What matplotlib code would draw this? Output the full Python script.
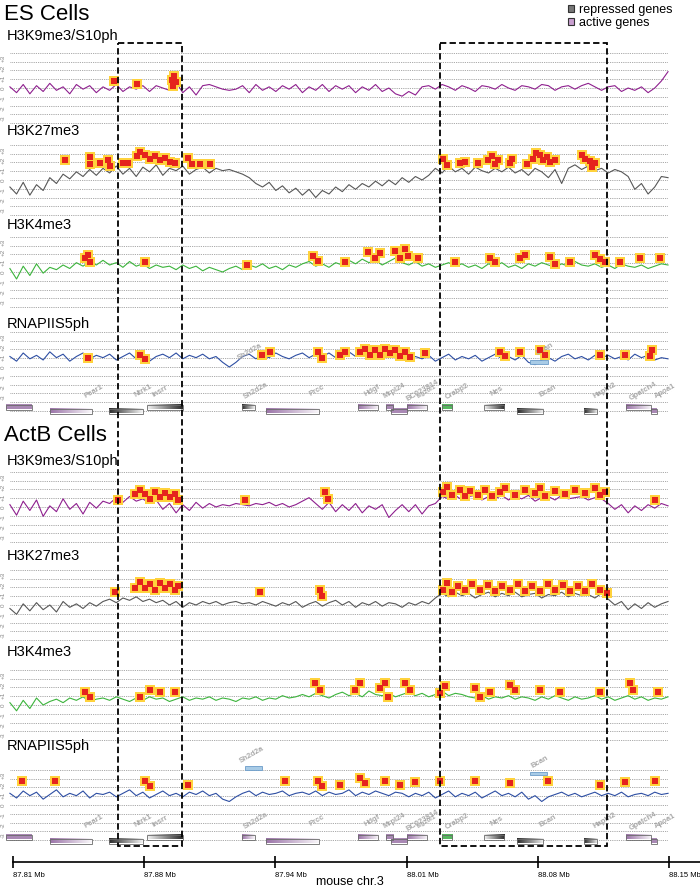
import numpy as np
import matplotlib.pyplot as plt
from matplotlib.patches import Rectangle, Patch
from matplotlib.colors import LinearSegmentedColormap

plt.rcParams['font.family'] = ['Liberation Sans', 'DejaVu Sans']

W, H = 700, 889
MB_PER_PX = 0.34 / 656
X_LEFT = 87.81 - 13 * MB_PER_PX
X_RIGHT = X_LEFT + W * MB_PER_PX
SIG_START, SIG_END = 87.8084, 88.1495
UNIT = 11.67  # px per signal unit

# ---- axis ----
tick_pos = [87.810, 87.878, 87.946, 88.014, 88.082, 88.150]
tick_labels = ["87.81 Mb", "87.88 Mb", "87.94 Mb", "88.01 Mb", "88.08 Mb", "88.15 Mb"]

# ---- signal tracks (log ratio) ----
es_h3k9 = [0.1, -0.4, 0.3, -0.5, 0.2, -0.3, 0.4, -0.2, 0.1, -0.5, 0.3, -0.1, 0.2, -0.4, 0.1,
           -0.2, 0.3, -0.3, 0.1, -0.1, 0.2, -0.3, 0.2, 0.0, -0.2, 0.5, -0.4, 0.1, -0.6, 0.2,
           0.3, 0.1, -0.1, -0.2, -0.1, 0.2, -0.4, 0.3, -0.2, 0.1, -0.3, 0.2, -0.1, 0.3, -0.4,
           0.1, -0.2, 0.3, -0.3, 0.2, -0.1, 0.2, -0.4, 0.1, -0.2, 0.3, -0.3, 0.0, -0.5, -0.7,
           -0.3, -0.6, 0.1, 0.2, -0.1, 0.3, 0.1, -0.2, 0.2, 0.0, -0.3, 0.2, 0.1, -0.1, 0.3,
           0.0, -0.2, 0.2, 0.1, -0.1, 0.3, 0.2, -0.2, 0.1, 0.2, -0.1, 0.2, 0.4, 0.1, -0.2,
           0.1, 0.2, -0.3, 0.0, -0.2, 0.1, -0.4, 0.0, 0.6, 1.4]
es_h3k27 = [-0.6, -1.2, -0.2, -1.3, -0.4, -0.9, 0.2, -0.3, 0.5, 0.1, 0.7, 0.3, 0.9, 0.4, 1.0,
            0.6, 1.2, 0.5, 1.0, 0.3, 1.1, 0.7, 1.3, 0.4, 1.0, 0.8, 1.2, 0.5, 0.9, 1.1,
            0.6, 1.0, 0.8, 0.9, 0.7, 0.5, 0.2, -0.3, -0.6, -0.2, -0.9, -0.5, -1.1, -0.7, -1.3,
            -0.8, -1.5, -0.9, -1.2, -0.6, -1.0, -0.4, -0.8, -0.3, -0.6, -0.1, -0.5, 0.0, -0.4, 0.2,
            -0.2, 0.3, 0.0, 0.4, 1.0, 0.6, 1.2, 0.7, 1.0, 0.5, 1.1, 0.8, 0.6, 1.0, 0.7,
            1.1, 0.6, 0.9, 0.4, 1.0, 0.7, 0.2, 0.9, -0.3, 1.0, 1.3, 0.9, 1.2, 0.8, 1.0,
            0.6, 0.9, 0.7, 0.3, -0.8, -0.3, -1.2, -0.6, 0.3, 0.2]
es_h3k4 = [0.3, -0.6, 0.5, -0.3, 0.7, -0.1, 0.4, 0.2, 0.6, 0.3, 0.8, 0.5, 0.9, 0.6, 1.0,
           0.6, 0.8, 0.4, 0.9, 0.5, 0.7, 0.3, 0.6, 0.4, 0.5, 0.2, 0.6, 0.3, 0.5, 0.1,
           0.4, 0.2, 0.0, 0.3, 0.5, 0.2, 0.6, 0.4, 0.7, 0.3, 0.5, 0.2, 0.6, 0.4, 0.7,
           0.9, 0.5, 0.7, 0.4, 0.8, 0.6, 1.0, 0.7, 1.1, 0.8, 1.0, 0.6, 0.9, 1.2, 0.8,
           0.6, 0.9, 0.5, 0.7, 0.4, 0.6, 0.8, 0.5, 0.7, 0.4, 0.6, 0.3, 0.7, 0.5, 0.8,
           0.4, 0.6, 0.3, 0.7, 0.5, 0.8, 0.6, 0.4, 0.7, 0.5, 0.9, 0.6, 0.5, 0.7, 0.4,
           0.6, 0.3, 0.7, 0.5, 0.4, 0.6, 0.3, 0.5, 0.7, 0.6]
es_pol2 = [0.9, 0.5, 1.2, 0.7, 1.0, 0.6, 1.3, 0.8, 1.1, 0.5, 0.9, 1.2, 0.7, 1.0, 0.8,
           1.1, 0.6, 0.9, 1.2, 0.7, 1.0, 0.5, 0.9, 1.1, 0.8, 1.2, 0.7, 1.0, 0.8, 1.1,
           0.7, 0.9, 0.4, 0.0, 0.4, 0.9, 1.1, 0.7, 1.0, 0.8, 1.2, 0.9, 0.7, 1.0, 1.2,
           0.8, 1.1, 0.9, 1.2, 0.8, 1.0, 1.3, 0.9, 1.1, 0.7, 1.0, 1.2, 0.8, 1.1, 0.9,
           0.6, 0.9, 0.7, 1.0, 0.5, 0.8, 1.1, 0.6, 0.9, 0.7, 1.0, 0.5, 0.8, 1.1, 0.7,
           0.9, 0.6, 1.0, 0.4, 0.2, 0.6, 0.8, 0.5, 0.9, 1.1, 0.7, 0.9, 0.6, 1.0, 0.8,
           1.0, 0.7, 0.9, 0.6, 1.1, 0.8, 1.0, 0.6, 0.8, 0.7]
actb_h3k9 = [0.2, -0.7, 0.5, -0.3, 0.6, -0.8, 0.1, -0.4, 0.7, -0.2, 0.3, -0.6, 0.4, -0.1, 0.5,
             0.3, 0.8, 0.4, 0.9, 0.5, 0.7, 0.3, 0.6, -0.2, 0.3, -0.5, 0.2, -0.3, 0.4, -0.1,
             0.3, 0.0, 0.2, 0.1, 0.3, 0.2, 0.1, 0.3, 0.2, 0.4, 0.1, 0.3, 0.0, 0.2, 0.5,
             0.8, 0.3, -0.2, 0.4, -0.4, 0.2, -0.3, 0.3, -0.5, 0.1, -0.2, 0.2, -0.9, -0.3, 0.2,
             -0.4, 0.2, -0.6, 0.1, 0.3, 0.9, 0.7, 1.0, 0.6, 0.9, 1.0, 0.6, 0.9, 0.7, 1.0,
             0.6, 0.9, 0.7, 1.0, 0.5, 0.8, 0.9, 0.6, 1.0, 0.7, 0.8, 0.9, 0.6, 0.8, 0.7,
             0.3, -0.2, 0.2, -0.5, 0.1, -0.3, 0.2, -0.1, 0.3, 0.1]
actb_h3k27 = [-0.3, -0.8, 0.1, -0.5, 0.2, -0.4, 0.0, -0.6, 0.3, -0.2, 0.1, -0.3, 0.2, -0.1, 0.3,
              0.5, 0.2, 0.6, 0.4, 0.7, 0.3, 0.5, 0.2, 0.4, 0.0, 0.3, -0.2, 0.2, 0.0, 0.3,
              0.1, 0.3, 0.0, 0.2, 0.3, 0.1, 0.2, 0.0, 0.3, 0.1, -0.1, 0.2, 0.0, 0.3, -0.2,
              0.1, 0.3, -0.1, 0.2, 0.4, 0.0, 0.3, -0.2, 0.2, 0.0, 0.3, -0.1, 0.2, 0.1, -0.2,
              0.2, 0.0, 0.3, 0.1, 0.6, 1.0, 0.7, 1.1, 0.8, 1.0, 0.6, 0.9, 1.1, 0.7, 1.0,
              0.8, 1.1, 0.7, 0.9, 1.0, 0.6, 0.9, 0.8, 1.1, 0.7, 1.0, 0.8, 0.9, 0.6, 1.0,
              0.5, 0.0, 0.3, -0.4, 0.1, -0.3, 0.2, -0.2, 0.1, 0.3]
actb_h3k4 = [0.2, -0.5, 0.4, -0.3, 0.6, 0.0, 0.3, 0.5, 0.2, 0.6, 0.4, 0.7, 0.3, 0.5, 0.6,
             0.4, 0.7, 0.5, 0.3, 0.6, 0.4, 0.7, 0.5, 0.6, 0.3, 0.5, 0.7, 0.4, 0.6, 0.5,
             0.7, 0.4, 0.6, 0.5, 0.3, 0.6, 0.5, 0.7, 0.4, 0.6, 0.5, 0.8, 0.6, 0.7, 0.9,
             0.7, 1.0, 0.8, 0.6, 0.9, 1.1, 0.8, 1.0, 0.7, 1.2, 0.9, 0.8, 1.0, 0.7, 0.9,
             1.1, 0.8, 1.0, 0.7, 0.9, 1.2, 0.8, 1.0, 0.9, 0.7, 0.6, 0.8, 0.5, 0.7, 0.6,
             0.8, 0.5, 0.7, 0.6, 0.4, 0.7, 0.5, 0.8, 0.6, 0.4, 0.7, 0.5, 0.6, 0.8, 0.5,
             0.7, 0.4, 0.6, 0.8, 0.5, 0.7, 0.4, 0.6, 0.5, 0.7]
actb_pol2 = [1.0, 0.6, 1.2, 0.8, 1.1, 0.5, 0.9, 1.3, 0.7, 1.0, 0.8, 1.2, 0.6, 1.0, 0.9,
             1.1, 0.7, 1.0, 1.3, 0.8, 1.1, 0.6, 0.9, 1.2, 0.8, 1.0, 0.7, 1.1, 0.9, 1.2,
             0.8, 1.0, 0.5, 0.3, 0.7, 1.0, 1.2, 0.8, 1.1, 0.9, 1.0, 1.2, 0.8, 1.0, 1.1,
             0.9, 1.2, 0.8, 1.1, 0.9, 1.0, 1.3, 0.8, 1.1, 0.9, 1.2, 1.0, 0.8, 1.1, 1.0,
             0.7, 1.0, 0.8, 1.1, 0.6, 0.9, 1.2, 0.7, 1.0, 0.8, 1.1, 0.6, 0.9, 1.2, 0.8,
             1.0, 0.7, 1.1, 0.5, 0.8, 0.3, 0.7, 0.9, 1.1, 0.8, 1.0, 0.7, 0.9, 1.1, 0.8,
             1.0, 0.8, 1.1, 0.7, 0.9, 1.0, 0.8, 1.1, 0.9, 1.0]

# ---- enriched regions (Mb, level) ----
es_h3k9_peak_x = [87.8623, 87.8743, 87.8924, 87.8934, 87.8945, 87.8929]
es_h3k9_peak_y = [0.6, 0.35, 0.7, 1.0, 0.5, 0.2]
es_h3k27_peak_x = [87.8370, 87.8499, 87.8499, 87.8551, 87.8592, 87.8603, 87.8670, 87.8696,
                   87.8743, 87.8758, 87.8784, 87.8810, 87.8836, 87.8862, 87.8888, 87.8914,
                   87.8940, 87.9007, 87.9028, 87.9069, 87.9121, 88.0329, 88.0349, 88.0417,
                   88.0443, 88.0510, 88.0562, 88.0583, 88.0598, 88.0614, 88.0676, 88.0686,
                   88.0764, 88.0795, 88.0811, 88.0831, 88.0847, 88.0868, 88.0883, 88.0909,
                   88.1049, 88.1065, 88.1091, 88.1101, 88.1116]
es_h3k27_peak_y = [1.7, 2.0, 1.4, 1.45, 1.7, 1.2, 1.45, 1.45,
                   2.05, 2.4, 2.15, 1.8, 2.05, 1.7, 1.9, 1.55,
                   1.45, 1.9, 1.35, 1.35, 1.35, 1.8, 1.3, 1.45,
                   1.55, 1.45, 1.7, 2.05, 1.35, 1.7, 1.45, 1.8,
                   1.35, 1.8, 2.3, 2.15, 1.7, 2.0, 1.55, 1.7,
                   2.15, 1.8, 1.6, 1.1, 1.45]
es_h3k4_peak_x = [87.8473, 87.8499, 87.8489, 87.8784, 87.9313, 87.9655, 87.9681, 87.9821,
                  87.9940, 87.9976, 88.0002, 88.0080, 88.0106, 88.0132, 88.0147, 88.0199,
                  88.0391, 88.0572, 88.0598, 88.0728, 88.0754, 88.0883, 88.0909, 88.0987,
                  88.1116, 88.1142, 88.1168, 88.1246, 88.1350, 88.1453]
es_h3k4_peak_y = [1.2, 0.85, 1.45, 0.85, 0.6, 1.35, 0.95, 0.85,
                  1.7, 1.2, 1.6, 1.8, 1.2, 2.0, 1.35, 1.2,
                  0.85, 1.2, 0.85, 1.2, 1.45, 1.3, 0.7, 0.85,
                  1.45, 1.1, 0.85, 0.85, 1.2, 1.2]
es_pol2_peak_x = [87.8489, 87.8758, 87.8784, 87.9391, 87.9432, 87.9681, 87.9702, 87.9795,
                  87.9821, 87.9898, 87.9924, 87.9950, 87.9976, 88.0002, 88.0028, 88.0054,
                  88.0080, 88.0106, 88.0132, 88.0158, 88.0235, 88.0624, 88.0650, 88.0728,
                  88.0831, 88.0857, 88.1142, 88.1272, 88.1402, 88.1412]
es_pol2_peak_y = [0.75, 1.0, 0.7, 1.0, 1.3, 1.3, 0.75, 1.0,
                  1.3, 1.3, 1.55, 1.0, 1.45, 1.0, 1.55, 1.2,
                  1.45, 0.95, 1.3, 0.85, 1.2, 1.3, 0.95, 1.3,
                  1.45, 1.0, 1.0, 1.0, 0.95, 1.45]
actb_h3k9_peak_x = [87.8644, 87.8732, 87.8758, 87.8784, 87.8810, 87.8836, 87.8862, 87.8888,
                    87.8914, 87.8940, 87.8955, 87.9302, 87.9717, 87.9733, 88.0329, 88.0349,
                    88.0375, 88.0417, 88.0443, 88.0469, 88.0510, 88.0546, 88.0583, 88.0624,
                    88.0650, 88.0702, 88.0754, 88.0806, 88.0831, 88.0857, 88.0909, 88.0961,
                    88.1013, 88.1065, 88.1116, 88.1142, 88.1168, 88.1427]
actb_h3k9_peak_y = [0.6, 1.1, 1.45, 1.1, 0.7, 1.3, 0.85, 1.2,
                    0.85, 1.1, 0.6, 0.6, 1.3, 0.7, 1.3, 1.7,
                    1.0, 1.45, 0.95, 1.35, 1.0, 1.45, 0.95, 1.3,
                    1.6, 1.0, 1.45, 1.2, 1.6, 0.95, 1.35, 1.1,
                    1.45, 1.2, 1.6, 1.0, 1.3, 0.6]
actb_h3k27_peak_x = [87.8629, 87.8732, 87.8758, 87.8784, 87.8810, 87.8836, 87.8862, 87.8888,
                     87.8914, 87.8940, 87.8955, 87.9380, 87.9691, 87.9702, 88.0329, 88.0349,
                     88.0375, 88.0406, 88.0443, 88.0479, 88.0520, 88.0562, 88.0598, 88.0634,
                     88.0676, 88.0717, 88.0754, 88.0790, 88.0831, 88.0873, 88.0909, 88.0951,
                     88.0987, 88.1028, 88.1065, 88.1101, 88.1142, 88.1179]
actb_h3k27_peak_y = [1.1, 1.45, 2.0, 1.45, 1.8, 1.3, 1.9, 1.45,
                     1.8, 1.3, 1.6, 1.1, 1.3, 0.75, 1.3, 1.9,
                     1.1, 1.6, 1.3, 1.8, 1.3, 1.7, 1.2, 1.6,
                     1.3, 1.8, 1.2, 1.6, 1.2, 1.8, 1.3, 1.7,
                     1.2, 1.6, 1.2, 1.8, 1.3, 1.0]
actb_h3k4_peak_x = [87.8473, 87.8499, 87.8758, 87.8810, 87.8862, 87.8940, 87.9665, 87.9691,
                    87.9873, 87.9898, 88.0002, 88.0028, 88.0044, 88.0132, 88.0158, 88.0313,
                    88.0339, 88.0494, 88.0520, 88.0572, 88.0676, 88.0702, 88.0831, 88.0935,
                    88.1142, 88.1298, 88.1313, 88.1443]
actb_h3k4_peak_y = [1.1, 0.7, 0.7, 1.3, 1.1, 1.1, 1.9, 1.3,
                    1.3, 1.9, 1.45, 1.9, 0.7, 1.9, 1.3, 1.0,
                    1.6, 1.45, 0.7, 1.1, 1.7, 1.3, 1.3, 1.1,
                    1.1, 1.9, 1.3, 1.1]
actb_pol2_peak_x = [87.8147, 87.8318, 87.8784, 87.8810, 87.9007, 87.9510, 87.9681, 87.9702,
                    87.9795, 87.9898, 87.9924, 88.0028, 88.0106, 88.0184, 88.0313, 88.0494,
                    88.0676, 88.0873, 88.1142, 88.1272, 88.1427]
actb_pol2_peak_y = [2.05, 2.05, 2.05, 1.6, 1.7, 2.05, 2.05, 1.6,
                    1.7, 2.3, 1.9, 2.05, 1.7, 2.0, 2.05, 2.05,
                    1.9, 2.05, 1.7, 2.0, 2.05]

# ---- genes ----
gene_start = [87.8064, 87.8292, 87.8598, 87.8795, 87.9287, 87.9411, 87.9888, 88.0033,
              88.0059, 88.0142, 88.0323, 88.0541, 88.0712, 88.1059, 88.1277, 88.1407]
gene_end = [87.8198, 87.8509, 87.8774, 87.8981, 87.9354, 87.9686, 87.9992, 88.0070,
            88.0142, 88.0246, 88.0375, 88.0645, 88.0847, 88.1127, 88.1407, 88.1438]
gene_row = [0, 1, 1, 0, 0, 1, 0, 0, 1, 0, 0, 0, 1, 1, 0, 1]
gene_fade = [0, 1, 1, -1, 1, 1, 1, 0, 0, 1, 0, -1, 1, 1, 1, 0]
es_gene_kind = ['act', 'act', 'rep', 'rep', 'rep', 'act', 'act', 'act',
                'act', 'act', 'green', 'rep', 'rep', 'rep', 'act', 'act']
actb_gene_kind = ['act', 'act', 'rep', 'rep', 'act', 'act', 'act', 'act',
                  'act', 'act', 'green', 'rep', 'rep', 'rep', 'act', 'act']
gene_names = ['Pear1', 'Ntrk1', 'Insrr', 'Sh2d2a', 'Prcc', 'Hdgf', 'Mrpl24', 'BC023814',
              'Isg20l1', 'Crabp2', 'Nes', 'Bcan', 'Hapln2', 'Gpatch4', 'Apoa1']
gene_label_x = [87.8520, 87.8774, 87.8862, 87.9359, 87.9676, 87.9961, 88.0075, 88.0220,
                88.0246, 88.0401, 88.0609, 88.0873, 88.1168, 88.1365, 88.1479]

# faint labels/boxes drawn inside the RNAPII tracks
es_ghost_names = ['Sh2d2a', 'Bcan']
es_ghost_x = [87.9328, 88.0857]
es_ghost_y = [1.3, 1.5]
es_ghost_box = [(88.0780, 88.0873, 0.4)]
actb_ghost_names = ['Sh2d2a', 'Bcan']
actb_ghost_x = [87.9339, 88.0831]
actb_ghost_y = [4.3, 3.7]
actb_ghost_box = [(87.9302, 87.9390, 3.2), (88.0780, 88.0868, 2.7)]

KIND_COLORS = {'act': '#9b74a8', 'rep': '#2a2a2a', 'green': '#3aaa45'}
PURPLE, GRAY, GREEN, BLUE = '#8e1f8e', '#575757', '#3cb43c', '#2d4ea3'

fig = plt.figure(figsize=(7, 8.89), dpi=100)


def px_axes(top, bottom, zorder=1):
    return fig.add_axes([0, 1 - bottom / H, 1, (bottom - top) / H], zorder=zorder)


def draw_track(y0, signal, peak_x, peak_y, color, bottom=None):
    top = y0 - 42
    if bottom is None:
        bottom = y0 + 42
    ax = px_axes(top, bottom)
    ax.set_xlim(X_LEFT, X_RIGHT)
    low = -(bottom - y0) / UNIT
    ax.set_ylim(low, (y0 - top) / UNIT)
    ax.axis('off')
    levels = np.arange(3, low + 0.05, -0.75)
    ax.hlines(levels, SIG_START, SIG_END, colors='#8a8a8a',
              linestyles=(0, (1, 1.2)), lw=0.6)
    xs = np.linspace(SIG_START, SIG_END, len(signal))
    ax.plot(xs, signal, color=color, lw=0.8)
    ax.scatter(peak_x, peak_y, s=46, marker='s', c='#ffd23c', lw=0, zorder=3)
    ax.scatter(peak_x, peak_y, s=16, marker='s', c='#e5231d', lw=0, zorder=4)
    for v in range(3, -4, -1):
        ax.text(X_LEFT + 3 * MB_PER_PX, v * 0.85, f'{v:+d}' if v else '0', rotation=90,
                fontsize=4.5, color='#888888', ha='center', va='center')
    return ax


def draw_ghosts(ax, names, xs, ys, boxes):
    for name, x, y in zip(names, xs, ys):
        ax.text(x, y, name, rotation=30, fontsize=5.5, color='#a8a8a8',
                fontweight='bold', ha='center', va='center', clip_on=False)
    for x0, x1, y in boxes:
        ax.add_patch(Rectangle((x0, y - 0.17), x1 - x0, 0.34, fc='#a8cbe6',
                               ec='#6b9cc9', lw=0.6, clip_on=False, zorder=5))


# ES cells
es_y0 = [88, 180, 272, 367]
draw_track(es_y0[0], es_h3k9, es_h3k9_peak_x, es_h3k9_peak_y, PURPLE)
draw_track(es_y0[1], es_h3k27, es_h3k27_peak_x, es_h3k27_peak_y, GRAY)
draw_track(es_y0[2], es_h3k4, es_h3k4_peak_x, es_h3k4_peak_y, GREEN)
ax = draw_track(es_y0[3], es_pol2, es_pol2_peak_x, es_pol2_peak_y, BLUE, bottom=413)
draw_ghosts(ax, es_ghost_names, es_ghost_x, es_ghost_y, es_ghost_box)

# ActB cells
actb_y0 = [507, 605, 705, 805]
draw_track(actb_y0[0], actb_h3k9, actb_h3k9_peak_x, actb_h3k9_peak_y, PURPLE)
draw_track(actb_y0[1], actb_h3k27, actb_h3k27_peak_x, actb_h3k27_peak_y, GRAY)
draw_track(actb_y0[2], actb_h3k4, actb_h3k4_peak_x, actb_h3k4_peak_y, GREEN)
ax = draw_track(actb_y0[3], actb_pol2, actb_pol2_peak_x, actb_pol2_peak_y, BLUE, bottom=843)
draw_ghosts(ax, actb_ghost_names, actb_ghost_x, actb_ghost_y, actb_ghost_box)

# overlay in pixel rows: genes and the dashed boxes
ov = px_axes(0, H, zorder=10)
ov.patch.set_alpha(0)
ov.axis('off')


def draw_genes(row_top, kinds):
    for x0, x1, row, kind, fade in zip(gene_start, gene_end, gene_row, kinds, gene_fade):
        y = row_top + row * 4
        cmap = LinearSegmentedColormap.from_list('g', ['white', KIND_COLORS[kind]])
        grad = np.linspace(0.05, 1, 64)
        if fade == 1:
            grad = grad[::-1]
        elif fade == 0:
            grad = np.full(64, 0.85)
        ov.imshow(grad[None, :], cmap=cmap, vmin=0, vmax=1, aspect='auto',
                  extent=(x0, x1, y + 4.5, y), interpolation='bilinear', zorder=2)
        ov.add_patch(Rectangle((x0, y), x1 - x0, 4.5, fill=False, ec='#6a6a6a',
                               lw=0.6, zorder=3))
    for name, x in zip(gene_names, gene_label_x):
        ov.text(x, row_top - 14, name, rotation=30, ha='center', va='center',
                fontsize=5.5 if name != 'Isg20l1' else 4.5, color='#a8a8a8',
                fontweight='bold')


draw_genes(405, es_gene_kind)
draw_genes(835, actb_gene_kind)

for x0, x1 in [(87.8644, 87.8976), (88.0313, 88.1179)]:
    ov.add_patch(Rectangle((x0, 43), x1 - x0, 846 - 43, fill=False, ec='black',
                           lw=1.3, ls=(0, (3.5, 1.8)), zorder=6))
ov.set_xlim(X_LEFT, X_RIGHT)
ov.set_ylim(H, 0)

# x axis
ax_x = px_axes(850, 862)
ax_x.set_xlim(X_LEFT, X_RIGHT)
for side in ['top', 'left', 'right']:
    ax_x.spines[side].set_visible(False)
ax_x.patch.set_alpha(0)
ax_x.spines['bottom'].set_bounds(87.81, 88.168)
ax_x.spines['bottom'].set_linewidth(1.2)
ax_x.set_yticks([])
ax_x.set_xticks(tick_pos, tick_labels)
ax_x.tick_params(axis='x', direction='inout', length=9, width=1.2, labelsize=5.5, pad=3)
for lbl in ax_x.get_xticklabels():
    lbl.set_ha('left')
fig.text(0.5, 1 - 882 / H, 'mouse chr.3', fontsize=9, ha='center', va='center')

# titles
fig.text(4 / W, 1 - 14 / H, 'ES Cells', fontsize=16, va='center')
fig.text(4 / W, 1 - 436 / H, 'ActB Cells', fontsize=16, va='center')
track_names = ['H3K9me3/S10ph', 'H3K27me3', 'H3K4me3', 'RNAPIIS5ph']
for name, y in zip(track_names * 2, [36, 131, 225, 324, 461, 556, 652, 746]):
    fig.text(7 / W, 1 - y / H, name, fontsize=10.5, va='center')

fig.legend(handles=[Patch(fc='#777777', ec='#333333', lw=0.8),
                    Patch(fc='#c99fd0', ec='#333333', lw=0.8)],
           labels=['repressed genes', 'active genes'], loc='upper left',
           bbox_to_anchor=(568 / W, 1 - 4 / H), frameon=False, fontsize=9,
           handlelength=0.5, handleheight=0.5, handletextpad=0.4,
           labelspacing=0.1, borderaxespad=0, borderpad=0)

fig.savefig('out.png', dpi=100)
